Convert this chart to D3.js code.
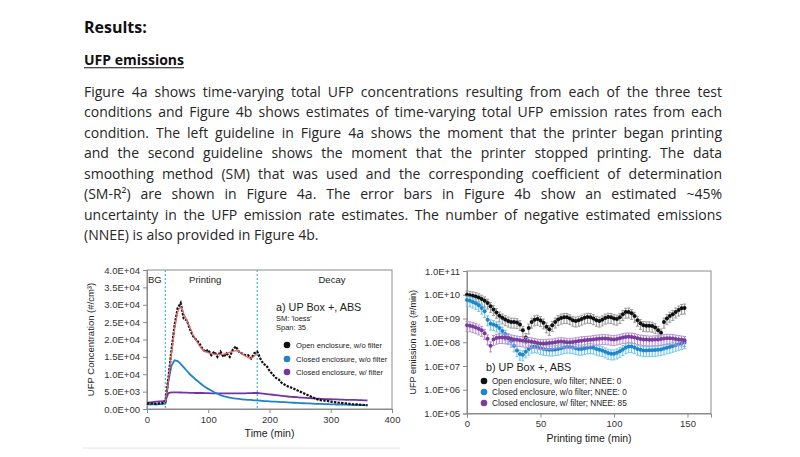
<!DOCTYPE html>
<html><head><meta charset="utf-8">
<script src="https://cdn.jsdelivr.net/npm/d3@7"></script>
<style>body{margin:0;background:#fff} svg{display:block}</style>
</head><body>
<svg id="c" width="800" height="457"></svg>
<script>
// ---------- text ----------
const headingText = "Results:";
const subheadingText = "UFP emissions";
const paragraphLines = [
  "Figure 4a shows time-varying total UFP concentrations resulting from each of the three test",
  "conditions and Figure 4b shows estimates of time-varying total UFP emission rates from each",
  "condition. The left guideline in Figure 4a shows the moment that the printer began printing",
  "and the second guideline shows the moment that the printer stopped printing. The data",
  "smoothing method (SM) that was used and the corresponding coefficient of determination",
  "(SM-R\u00B2) are shown in Figure 4a. The error bars in Figure 4b show an estimated ~45%",
  "uncertainty in the UFP emission rate estimates. The number of negative estimated emissions",
  "(NNEE) is also provided in Figure 4b."
];

// ---------- chart a data ----------
const timeA = [0,5,10,15,20,25,30,35,40,45,50,55,60,65,70,75,80,85,90,95,100,105,110,115,120,125,130,135,140,145,150,155,160,165,170,175,180,185,190,195,200,205,210,215,220,225,230,235,240,245,250,255,260,265,270,275,280,285,290,295,300,305,310,315,320,325,330,335,340,345,350,355,360];
const openNoFilterA = [1600,1500,1600,1500,1600,1700,2000,9000,17000,24000,29000,30500,26000,25500,23000,21000,20000,19000,17500,16500,17000,15500,16500,15000,16500,15000,16000,15000,17000,18000,16500,16000,15500,15500,14500,16000,16500,14500,13000,12500,11000,10000,9000,8500,7500,7000,6500,6200,5800,5400,5000,4600,4200,3800,3400,3000,2700,2500,2400,2300,2100,2000,1900,1800,1700,1600,1500,1400,1350,1300,1200,1150,1100];
const loessTimeA = [30,35,40,45,50,55,60,65,70,75,80,85,90,95,100,105,110,115,120,125,130,135,140,145,150,155,160,165,170,175,180];
const loessA = [2000,8000,16000,23000,28000,29500,27500,25500,23500,21500,19800,18300,17200,16500,16100,15900,15800,15700,15700,15800,16000,16300,16600,16800,16600,16000,15300,14800,14600,15200,16000];
const closedNoFilterA = [1400,1300,1400,1300,1400,1400,1500,8000,12500,14000,13800,13000,12000,11000,10000,9200,8400,7700,7000,6300,5800,5300,4800,4400,4000,3700,3500,3300,3100,3000,2900,2800,2700,2600,2600,2500,2500,2400,2300,2250,2200,2150,2100,2050,2000,1950,1900,1850,1800,1750,1700,1650,1600,1600,1550,1500,1500,1450,1400,1400,1350,1350,1300,1300,1250,1250,1200,1200,1150,1150,1100,1100,1050];
const closedFilterA = [1800,1900,2000,2100,2200,2200,2400,4600,4800,4800,4800,4750,4700,4700,4650,4650,4600,4600,4600,4550,4550,4500,4500,4500,4500,4500,4500,4500,4500,4500,4500,4500,4500,4550,4550,4600,4600,4500,4400,4300,4200,4100,4000,3900,3800,3700,3600,3500,3450,3400,3300,3250,3200,3150,3100,3000,2950,2900,2850,2800,2800,2750,2750,2700,2700,2650,2650,2600,2600,2550,2550,2500,2500];
const ticksAy = [0,5000,10000,15000,20000,25000,30000,35000,40000];
const ticksAx = [0,100,200,300,400];
const guideTimes = [30,180];
const phaseLabels = ["BG","Printing","Decay"];
const legendA = ["Open enclosure, w/o filter","Closed enclosure, w/o filter","Closed enclosure, w/ filter"];
const annotationA = ["a) UP Box +, ABS","SM: 'loess'","Span: 35"];

// ---------- chart b data ----------
const timeB = [0,2,4,6,8,10,12,14,16,18,20,22,24,26,28,30,32,34,36,38,40,42,44,46,48,50,52,54,56,58,60,62,64,66,68,70,72,74,76,78,80,82,84,86,88,90,92,94,96,98,100,102,104,106,108,110,112,114,116,118,120,122,124,126,128,130,132,134,136,138,140,142,144,146,148];
const openNoFilterB = [1.0e10,9.5e9,9.1e9,8.5e9,7.6e9,6.6e9,5.6e9,4.5e9,3.3e9,2.4e9,1.8e9,1.3e9,1.07e9,9.1e8,7.9e8,7.2e8,7.1e8,6.8e8,5.6e8,3.2e8,1.6e8,4.0e8,7.1e8,8.9e8,9.5e8,8.3e8,6.6e8,4.5e8,3.5e8,5.2e8,7.2e8,9.1e8,1.05e9,1.12e9,1.12e9,1.0e9,8.5e8,7.9e8,8.5e8,9.5e8,1.07e9,1.15e9,1.12e9,1.0e9,8.5e8,7.9e8,8.9e8,1.05e9,1.15e9,1.12e9,1.0e9,9.5e8,1.12e9,1.5e9,1.86e9,1.9e9,1.66e9,1.26e9,8.5e8,6.3e8,5.2e8,5.0e8,5.0e8,4.8e8,4.2e8,3.2e8,2.5e8,7.1e8,1.0e9,1.26e9,1.5e9,1.9e9,2.3e9,2.7e9,2.8e9];
const closedNoFilterB = [6.0e9,5.6e9,5.0e9,4.4e9,3.6e9,2.8e9,2.0e9,8.9e8,6.0e8,5.6e8,5.0e8,4.0e8,3.0e8,2.2e8,1.6e8,1.12e8,7.1e7,4.5e7,3.2e7,3.0e7,4.0e7,5.2e7,6.3e7,6.6e7,6.3e7,5.6e7,5.2e7,5.0e7,4.8e7,4.8e7,5.0e7,5.2e7,5.6e7,6.0e7,6.3e7,6.3e7,6.0e7,5.6e7,5.2e7,5.2e7,5.5e7,5.9e7,6.0e7,5.8e7,5.2e7,4.8e7,4.5e7,4.0e7,3.5e7,3.3e7,3.3e7,3.6e7,4.2e7,5.0e7,6.0e7,6.6e7,6.6e7,6.0e7,5.2e7,4.8e7,4.5e7,4.5e7,4.6e7,4.6e7,4.7e7,4.8e7,5.0e7,5.4e7,5.9e7,6.3e7,6.9e7,7.6e7,8.3e7,9.1e7,9.8e7];
const closedFilterB = [5.2e8,5.0e8,4.6e8,4.2e8,3.7e8,3.2e8,2.4e8,1.4e8,7.1e7,1.32e8,1.5e8,1.6e8,1.6e8,1.55e8,1.48e8,1.41e8,1.32e8,1.26e8,1.2e8,1.15e8,1.12e8,1.1e8,1.05e8,1.0e8,9.3e7,8.9e7,8.9e7,9.1e7,9.3e7,9.5e7,1.0e8,1.05e8,1.07e8,1.05e8,1.0e8,1.0e8,1.02e8,1.07e8,1.12e8,1.17e8,1.2e8,1.23e8,1.26e8,1.32e8,1.38e8,1.41e8,1.45e8,1.45e8,1.41e8,1.35e8,1.32e8,1.38e8,1.48e8,1.6e8,1.66e8,1.7e8,1.66e8,1.6e8,1.48e8,1.38e8,1.32e8,1.29e8,1.26e8,1.26e8,1.29e8,1.32e8,1.38e8,1.45e8,1.48e8,1.48e8,1.45e8,1.38e8,1.32e8,1.26e8,1.2e8];
const uncertainty = 0.45;
const ticksBy = [1e5,1e6,1e7,1e8,1e9,1e10,1e11];
const ticksBx = [0,50,100,150];
const legendB = ["Open enclosure, w/o filter; NNEE: 0","Closed enclosure, w/o filter; NNEE: 0","Closed enclosure, w/ filter; NNEE: 85"];
const annotationB = "b) UP Box +, ABS";

// ---------- drawing ----------
const svg = d3.select("#c");
const TXT = "#222";
const SANS = "'Liberation Sans', Arial, sans-serif";
const BODY = "'Open Sans', 'Noto Sans', sans-serif";

// header
svg.append("text").attr("x",84).attr("y",32.5).attr("font-family",BODY).attr("font-weight",700)
  .attr("font-size",16).attr("fill","#111").text(headingText);
const sub = svg.append("text").attr("x",84).attr("y",65).attr("font-family",BODY).attr("font-weight",700)
  .attr("font-size",14).attr("fill","#111").text(subheadingText);
const subW = sub.node().getComputedTextLength();
svg.append("line").attr("x1",84).attr("x2",84+subW).attr("y1",67.8).attr("y2",67.8).attr("stroke","#111").attr("stroke-width",1.1);

const paraLeft = 84, paraRight = 722;
paragraphLines.forEach((ln,i)=>{
  const t = svg.append("text").attr("x",paraLeft).attr("y",96.5+i*20.57)
    .attr("font-family",BODY).attr("font-size",14).attr("fill","#262626").text(ln);
  if (i < paragraphLines.length-1) {
    const w = t.node().getComputedTextLength();
    const n = (ln.match(/ /g)||[]).length;
    t.attr("word-spacing", (paraRight-paraLeft-w)/n);
  }
});

function sci(d){
  if (d===0) return "0.0E+00";
  const e = Math.floor(Math.log10(d)+1e-9);
  const m = d/Math.pow(10,e);
  return m.toFixed(1)+"E+"+String(e).padStart(2,"0");
}
function styleAxis(g){
  g.select(".domain").attr("stroke","#8a8a8a");
  g.selectAll(".tick line").attr("stroke","#8a8a8a");
  g.selectAll(".tick text").attr("fill","#333").attr("font-family",SANS).attr("font-size",9.5);
}

// ===== chart a =====
const xA = d3.scaleLinear().domain([0,400]).range([147,392]);
const yA = d3.scaleLinear().domain([0,40000]).range([409,270]);
const gA = svg.append("g");
gA.append("rect").attr("x",xA(0)).attr("y",yA(40000)).attr("width",xA(400)-xA(0)).attr("height",yA(0)-yA(40000))
  .attr("fill","none").attr("stroke","#8a8a8a");
gA.append("g").attr("transform",`translate(${xA(0)},0)`)
  .call(d3.axisLeft(yA).tickValues(ticksAy).tickFormat(sci).tickSize(4).tickPadding(3)).call(styleAxis);
gA.append("g").attr("transform",`translate(0,${yA(0)})`)
  .call(d3.axisBottom(xA).tickValues(ticksAx).tickSize(4).tickPadding(3)).call(styleAxis);

guideTimes.forEach(t=>{
  gA.append("line").attr("x1",xA(t)).attr("x2",xA(t)).attr("y1",yA(40000)).attr("y2",yA(0))
    .attr("stroke","#45bfe3").attr("stroke-width",1.3).attr("stroke-dasharray","2,2");
});
gA.append("text").attr("x",xA(0)+1).attr("y",283).attr("font-family",SANS).attr("font-size",9.5).attr("fill",TXT).text(phaseLabels[0]);
gA.append("text").attr("x",xA(95)).attr("y",283).attr("text-anchor","middle").attr("font-family",SANS).attr("font-size",9.5).attr("fill",TXT).text(phaseLabels[1]);
gA.append("text").attr("x",xA(302)).attr("y",283).attr("text-anchor","middle").attr("font-family",SANS).attr("font-size",9.5).attr("fill",TXT).text(phaseLabels[2]);

const lineA = (vals, times) => d3.line().x((d,i)=>xA(times[i])).y(d=>yA(d))(vals);
gA.append("path").attr("d",lineA(closedFilterA,timeA)).attr("fill","none").attr("stroke","#7434a3").attr("stroke-width",1.8);
gA.append("path").attr("d",lineA(closedNoFilterA,timeA)).attr("fill","none").attr("stroke","#1f83c9").attr("stroke-width",1.8);
gA.append("path").attr("d",lineA(openNoFilterA,timeA)).attr("fill","none").attr("stroke","#111").attr("stroke-width",2.2).attr("stroke-dasharray","2.4,1.2");
gA.append("path").attr("d",lineA(loessA,loessTimeA)).attr("fill","none").attr("stroke","#e2666a").attr("stroke-width",1.2);

gA.append("text").attr("x",276).attr("y",310.5).attr("font-family",SANS).attr("font-size",10.8).attr("fill",TXT).text(annotationA[0]);
gA.append("text").attr("x",276).attr("y",320.5).attr("font-family",SANS).attr("font-size",7.5).attr("fill",TXT).text(annotationA[1]);
gA.append("text").attr("x",276).attr("y",330).attr("font-family",SANS).attr("font-size",7.5).attr("fill",TXT).text(annotationA[2]);
const colA = ["#111","#1f83c9","#7434a3"];
const legYA = [345,359,372];
legendA.forEach((s,i)=>{
  gA.append("circle").attr("cx",287).attr("cy",legYA[i]).attr("r",3.3).attr("fill",colA[i]);
  gA.append("text").attr("x",296).attr("y",legYA[i]+2.6).attr("font-family",SANS).attr("font-size",7.6).attr("fill",TXT).text(s);
});
gA.append("text").attr("x",(xA(0)+xA(400))/2).attr("y",437).attr("text-anchor","middle").attr("font-family",SANS).attr("font-size",10.5).attr("fill",TXT).text("Time (min)");
gA.append("text").attr("transform",`translate(93.5,${(yA(0)+yA(40000))/2}) rotate(-90)`).attr("text-anchor","middle")
  .attr("font-family",SANS).attr("font-size",9.5).attr("fill",TXT).text("UFP Concentration (#/cm\u00B3)");
svg.append("line").attr("x1",83).attr("x2",400).attr("y1",448).attr("y2",448).attr("stroke","#e2e2e2");

// ===== chart b =====
const xB = d3.scaleLinear().domain([0,166]).range([467,711]);
const yB = d3.scaleLog().domain([1e5,1e11]).range([413.5,271]);
const gB = svg.append("g");
gB.append("rect").attr("x",xB(0)).attr("y",yB(1e11)).attr("width",xB(166)-xB(0)).attr("height",yB(1e5)-yB(1e11))
  .attr("fill","none").attr("stroke","#8a8a8a");
gB.append("g").attr("transform",`translate(${xB(0)},0)`)
  .call(d3.axisLeft(yB).tickValues(ticksBy).tickFormat(sci).tickSize(4).tickPadding(3)).call(styleAxis);
gB.append("g").attr("transform",`translate(0,${yB(1e5)})`)
  .call(d3.axisBottom(xB).tickValues(ticksBx).tickSize(4).tickPadding(3)).call(styleAxis);

const seriesB = [
  {vals:openNoFilterB, col:"#111", bar:"#9a9a9a"},
  {vals:closedNoFilterB, col:"#1f86c8", bar:"#6ec6ec"},
  {vals:closedFilterB, col:"#7a3d9c", bar:"#b790d6"}
];
seriesB.forEach(s=>{
  const g = gB.append("g");
  s.vals.forEach((v,i)=>{
    const x = xB(timeB[i]);
    const y0 = yB(v*(1-uncertainty)), y1 = yB(v*(1+uncertainty));
    g.append("line").attr("x1",x).attr("x2",x).attr("y1",y0).attr("y2",y1).attr("stroke",s.bar).attr("stroke-width",1.1);
    g.append("line").attr("x1",x-1.5).attr("x2",x+1.5).attr("y1",y0).attr("y2",y0).attr("stroke",s.bar).attr("stroke-width",1);
    g.append("line").attr("x1",x-1.5).attr("x2",x+1.5).attr("y1",y1).attr("y2",y1).attr("stroke",s.bar).attr("stroke-width",1);
  });
  g.selectAll("circle").data(s.vals).join("circle").attr("cx",(d,i)=>xB(timeB[i])).attr("cy",d=>yB(d)).attr("r",2).attr("fill",s.col);
});

gB.append("text").attr("x",486).attr("y",371).attr("font-family",SANS).attr("font-size",10.8).attr("fill",TXT).text(annotationB);
const legYB = [381,392,403];
legendB.forEach((s,i)=>{
  gB.append("circle").attr("cx",484).attr("cy",legYB[i]).attr("r",3.3).attr("fill",seriesB[i].col);
  gB.append("text").attr("x",492).attr("y",legYB[i]+2.8).attr("font-family",SANS).attr("font-size",8.2).attr("fill",TXT).text(s);
});
gB.append("text").attr("x",(xB(0)+xB(166))/2).attr("y",442).attr("text-anchor","middle").attr("font-family",SANS).attr("font-size",10.5).attr("fill",TXT).text("Printing time (min)");
gB.append("text").attr("transform",`translate(416,${(yB(1e5)+yB(1e11))/2}) rotate(-90)`).attr("text-anchor","middle")
  .attr("font-family",SANS).attr("font-size",9).attr("fill",TXT).text("UFP emission rate (#/min)");
</script>
</body></html>
